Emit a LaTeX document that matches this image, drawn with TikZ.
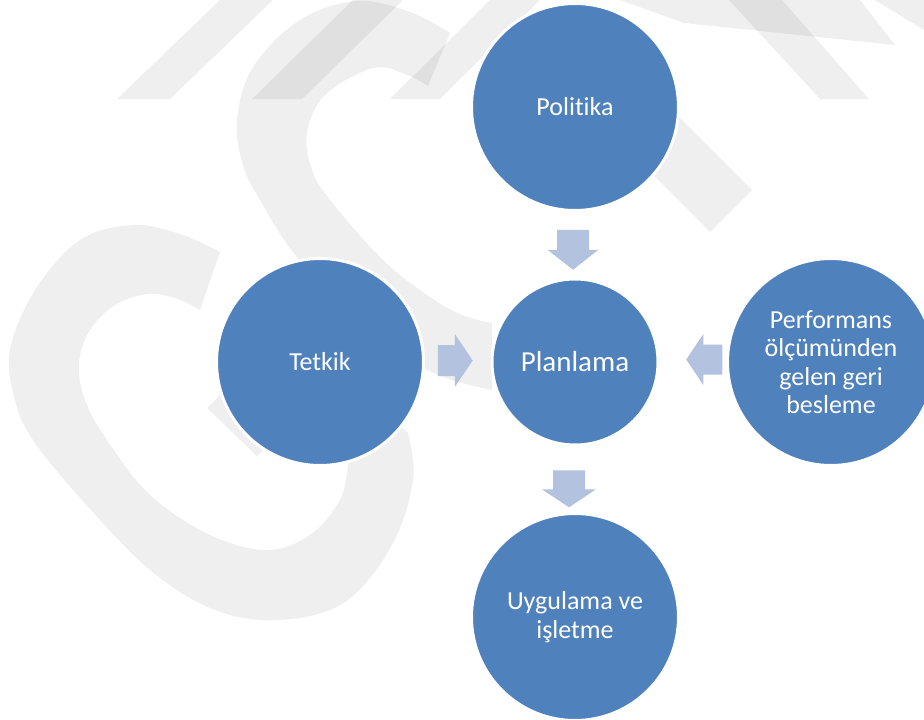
\documentclass[tikz,border=0pt]{standalone}
\usepackage{fontspec}
\setmainfont{Carlito}[Ligatures={NoCommon}]
\usetikzlibrary{calc}
\definecolor{circblue}{HTML}{4F81BD}
\definecolor{arrowblue}{HTML}{B3C3DF}
\begin{document}
\begin{tikzpicture}[x=1pt,y=-1pt,
  wm/.style={fill=black,fill opacity=0.062},
  bubble/.style={circle,fill=circblue,draw=white,line width=3pt,text=white,
    align=center,minimum size=207pt,inner sep=0pt,
    font=\fontsize{26}{28.5}\selectfont},
  hub/.style={bubble,minimum size=166pt,font=\fontsize{29}{32}\selectfont},
  pics/barrow/.style n args={4}{code={
    \fill[arrowblue] (-#3/2,-#1) -- (#3/2-#4,-#1) -- (#3/2-#4,-#2) -- (#3/2,0)
      -- (#3/2-#4,#2) -- (#3/2-#4,#1) -- (-#3/2,#1) -- cycle;}}
]
\useasboundingbox (0,0) rectangle (924,720);
\fill[white] (0,0) rectangle (924,720);
\begin{scope}
\clip (0,0) rectangle (924,720);
% ---- watermark ----
\fill[wm] (117,99) -- (170,99) -- (273,0) -- (220,0) -- cycle;
\fill[wm] (252,99) -- (302,99) -- (403,0) -- (353,0) -- cycle;
\fill[wm] (390,99) -- (440,99) -- (540,0) -- (490,0) -- cycle;
\fill[wm] (642,80) -- (752,190) -- (710,232) -- (600,122) -- cycle;
\fill[wm] (729,0) -- (782,0) -- (869,99) -- (820,99) -- cycle;
\fill[wm] (620,0) -- (860,0) -- (895,45) -- (684,23) -- cycle;
\fill[wm] (875,0) -- (924,0) -- (924,30) -- cycle;
\fill[wm] (207,408) -- (257,456) -- (300,413) -- (250,365) -- cycle;
% upper S band
\fill[wm] plot[smooth,tension=0.6] coordinates {(450,33) (410,12) (357,1) (300,20) (253,67) (237,120) (243,165) (260,200) (297,257) (360,318) (427,370) (492,390)}
  -- (492,323)
  -- plot[smooth,tension=0.6] coordinates {(492,323) (462,315) (430,297) (383,260) (330,200) (312,170) (307,133) (325,95) (373,68) (405,74) (428,86)}
  -- cycle;
% lower-left C band
\fill[wm] plot[smooth,tension=0.6] coordinates {(220,252) (180,234) (133,225) (80,240) (35,290) (10,350) (15,400) (33,440) (82,500) (150,570) (215,610) (280,620) (345,602) (392,545) (413,480) (408,433)}
  -- (370,400) -- (340,440)
  -- plot[smooth,tension=0.6] coordinates {(348,465) (340,500) (310,535) (267,550) (210,535) (150,495) (107,440) (85,400) (79,363) (90,330) (115,305) (147,294) (175,298) (200,310)}
  -- cycle;
% ---- circles ----
\node[bubble] (pol)  at (575,107) {Politika};
\node[hub]    (plan) at (575,362) {Planlama};
\node[bubble] (tet)  at (320,362) {Tetkik};
\node[bubble] (perf) at (831,362) {Performans\\ölçümünden\\gelen geri\\besleme};
\node[bubble] (uyg)  at (575,617) {Uygulama ve\\işletme};
% ---- block arrows ----
\coordinate (a1) at ($(pol.south)!0.5!(plan.north)+(-2,5)$);
\coordinate (a2) at ($(tet.east)!0.5!(plan.west)+(-2.5,-1.5)$);
\coordinate (a3) at ($(plan.east)!0.5!(perf.west)+(11.5,-2.5)$);
\coordinate (a4) at ($(plan.south)!0.5!(uyg.north)+(-6,9.5)$);
\pic[rotate=-90] at (a1) {barrow={16}{25.5}{40}{20}};
\pic at (a2) {barrow={15.5}{26.5}{35}{18}};
\pic[rotate=180] at (a3) {barrow={15}{25.5}{36}{17}};
\pic[rotate=-90] at (a4) {barrow={16}{27}{37}{18}};
\end{scope}
\end{tikzpicture}
\end{document}
